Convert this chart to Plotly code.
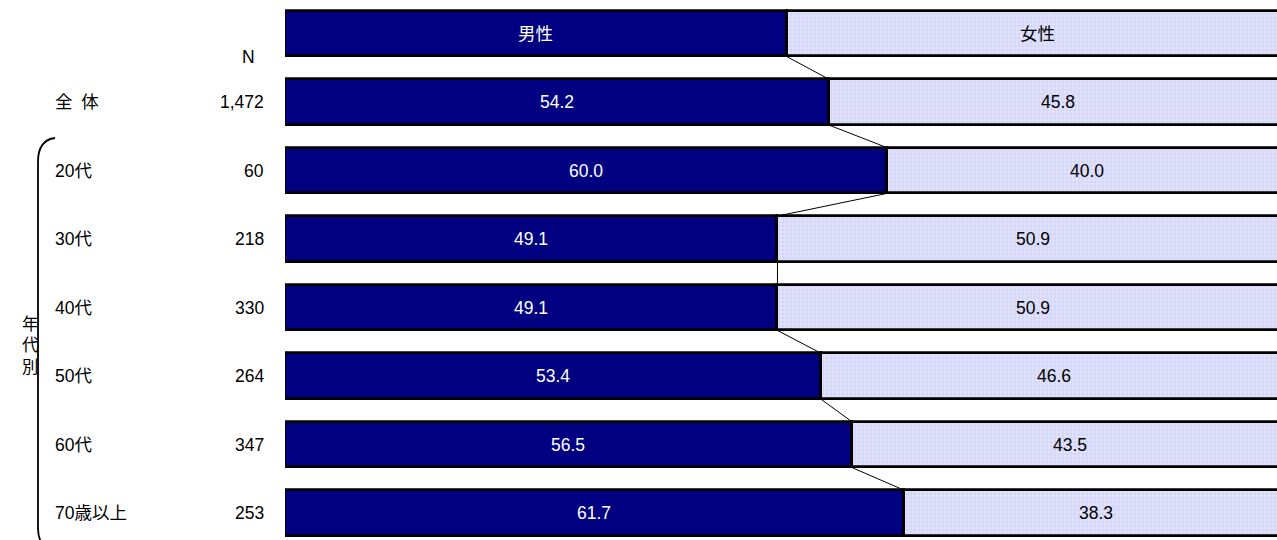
import plotly.graph_objects as go

# Survey respondents by sex, overall and by age band (percent)
groups = ["全\u2002体", "20代", "30代", "40代", "50代", "60代", "70歳以上"]
n_counts = ["1,472", "60", "218", "330", "264", "347", "253"]
male = [54.2, 60.0, 49.1, 49.1, 53.4, 56.5, 61.7]
female = [45.8, 40.0, 50.9, 50.9, 46.6, 43.5, 38.3]

# Legend strip shown as the first row
legend_names = ["男性", "女性"]
legend_share = [50, 50]

FONT = "Liberation Sans, Arial, Noto Sans CJK JP, sans-serif"
NAVY = "#000080"
BAR_W = 0.67
FS = 17.5

rows = list(range(len(groups) + 1))          # row 0 = legend strip
male_all = [legend_share[0]] + male
female_all = [legend_share[1]] + female

fig = go.Figure()
fig.add_trace(go.Bar(
    y=rows, x=male_all, base=0, orientation="h", width=BAR_W,
    marker=dict(color=NAVY, line=dict(color="black", width=2.8)),
    hoverinfo="skip", showlegend=False,
))
fig.add_trace(go.Bar(
    y=rows, x=female_all, base=male_all, orientation="h", width=BAR_W,
    marker=dict(color="#E2E2FB", line=dict(color="black", width=2.8),
                pattern=dict(shape="+", fgcolor="#B4B4F2", size=4, solidity=0.3)),
    hoverinfo="skip", showlegend=False,
))

# Thin connector lines between the male/female boundaries of adjacent rows
for i in range(len(rows) - 1):
    fig.add_trace(go.Scatter(
        x=[male_all[i], male_all[i + 1]],
        y=[rows[i] + BAR_W / 2, rows[i + 1] - BAR_W / 2],
        mode="lines", line=dict(color="black", width=1),
        hoverinfo="skip", showlegend=False,
    ))

ann = []
# Labels inside the bars
for i, r in enumerate(rows):
    m, f = male_all[i], female_all[i]
    mt = legend_names[0] if i == 0 else f"{m:.1f}"
    ft = legend_names[1] if i == 0 else f"{f:.1f}"
    ann.append(dict(x=m / 2, y=r, text=mt, showarrow=False, xref="x", yref="y",
                    font=dict(color="white", size=FS, family=FONT)))
    ann.append(dict(x=m + f / 2, y=r, text=ft, showarrow=False, xref="x", yref="y",
                    font=dict(color="black", size=FS, family=FONT)))

# Left-hand category labels and sample sizes
PX_L, PX_W = 285, 992
def px(p):
    return (p - PX_L) / PX_W

def py(p):
    return (p - 33.5) / 68.5

for i, g in enumerate(groups):
    ann.append(dict(x=px(53), y=i + 1, text=g, showarrow=False, xref="paper", yref="y",
                    xanchor="left", font=dict(color="black", size=FS, family=FONT)))
    ann.append(dict(x=px(266), y=i + 1, text=n_counts[i], showarrow=False, xref="paper",
                    yref="y", xanchor="right", font=dict(color="black", size=FS, family=FONT)))
ann.append(dict(x=px(240), y=py(57), text="N", showarrow=False, xref="paper",
                yref="y", font=dict(color="black", size=FS, family=FONT)))
ann.append(dict(x=px(20), y=py(345), text="年<br>代<br>別", showarrow=False,
                xref="paper", yref="y",
                font=dict(color="black", size=16.5, family=FONT)))

# Bracket grouping the age bands
bx0, bx1 = px(38), px(55)
bracket = (f"M {bx1},{py(138)} Q {bx0},{py(140)} {bx0},{py(162)} "
           f"L {bx0},{py(528)} Q {bx0},{py(540)} {px(44)},{py(546)}")

fig.update_layout(
    width=1277, height=540,
    margin=dict(l=285, r=0, t=0, b=0),
    paper_bgcolor="white", plot_bgcolor="white",
    barmode="overlay", bargap=0,
    xaxis=dict(range=[0, (1277 - 285) / 10.03], visible=False, fixedrange=True),
    yaxis=dict(range=[py(540), py(0)], visible=False, fixedrange=True),
    annotations=ann,
    shapes=[dict(type="path", path=bracket, xref="paper", yref="y",
                 line=dict(color="black", width=1.8), layer="above")],
)

fig.write_html("out.html")
